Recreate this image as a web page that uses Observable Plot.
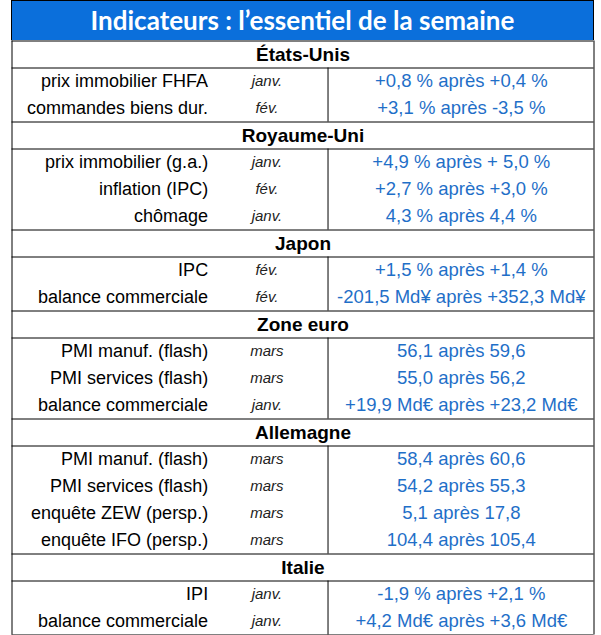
<!DOCTYPE html>
<html>
<head>
<meta charset="utf-8">
<script src="https://cdn.jsdelivr.net/npm/d3@7"></script>
<script src="https://cdn.jsdelivr.net/npm/@observablehq/plot@0.6"></script>
<style>
  html, body { margin: 0; padding: 0; background: #fff; }
  #title {
    position: relative; left: 11px; width: 581px; height: 39px;
    border: 1px solid #000; border-bottom: none;
    background: #0b6fdb; color: #fff;
    font-family: Lato, "Open Sans", sans-serif; font-weight: bold; font-size: 26px;
    line-height: 39px; text-align: center; white-space: nowrap;
  }
  #chart svg { display: block; }
</style>
</head>
<body>
<div id="title">Indicateurs : l’essentiel de la semaine</div>
<div id="chart"></div>
<script>
// ---- data ----
const sections = ["États-Unis", "Royaume-Uni", "Japon", "Zone euro", "Allemagne", "Italie"];
const indicatorSection = [0, 0, 1, 1, 1, 2, 2, 3, 3, 3, 4, 4, 4, 4, 5, 5];
const indicators = [
  "prix immobilier FHFA", "commandes biens dur.",
  "prix immobilier (g.a.)", "inflation (IPC)", "chômage",
  "IPC", "balance commerciale",
  "PMI manuf. (flash)", "PMI services (flash)", "balance commerciale",
  "PMI manuf. (flash)", "PMI services (flash)", "enquête ZEW (persp.)", "enquête IFO (persp.)",
  "IPI", "balance commerciale"
];
const periods = [
  "janv.", "fév.",
  "janv.", "fév.", "janv.",
  "fév.", "fév.",
  "mars", "mars", "janv.",
  "mars", "mars", "mars", "mars",
  "janv.", "janv."
];
const values = [
  "+0,8 % après +0,4 %", "+3,1 % après -3,5 %",
  "+4,9 % après + 5,0 %", "+2,7 % après +3,0 %", "4,3 % après 4,4 %",
  "+1,5 % après +1,4 %", "-201,5 Md¥ après +352,3 Md¥",
  "56,1 après 59,6", "55,0 après 56,2", "+19,9 Md€ après +23,2 Md€",
  "58,4 après 60,6", "54,2 après 55,3", "5,1 après 17,8", "104,4 après 105,4",
  "-1,9 % après +2,1 %", "+4,2 Md€ après +3,6 Md€"
];

// ---- layout (column anchors as fractions of table width) ----
const col = { label: 0.337, period: 0.438, divider: 0.543, value: 0.772, center: 0.5 };

// build row tables
const headerRows = [];
const dataRows = [];
const blocks = [];
let r = 0;
sections.forEach((s, si) => {
  headerRows.push({ name: s, row: r });
  r += 1;
  const start = r;
  indicators.forEach((ind, i) => {
    if (indicatorSection[i] === si) {
      dataRows.push({ indicator: ind, period: periods[i], value: values[i], row: r });
      r += 1;
    }
  });
  blocks.push({ y1: start, y2: r });
});
const nRows = r;
const hLines = [];
headerRows.forEach(h => { hLines.push(h.row); hLines.push(h.row + 1); });
hLines.push(nRows);

const font = "'Liberation Sans', Arial, sans-serif";
const chart = Plot.plot({
  width: 601,
  height: 595,
  margin: 0,
  x: { domain: [0, 1], range: [11.5, 593.5], axis: null },
  y: { domain: [0, nRows], range: [0.5, 594.5], axis: null },
  style: { fontFamily: font, background: "#fff" },
  marks: [
    Plot.ruleY(hLines, { y: d => d, x1: 0, x2: 1, stroke: "#000", strokeWidth: 1, strokeOpacity: 1 }),
    Plot.ruleX([0, 1], { x: d => d, y1: 0, y2: nRows, stroke: "#000", strokeWidth: 1, strokeOpacity: 1 }),
    Plot.ruleX(blocks, { x: () => col.divider, y1: "y1", y2: "y2", stroke: "#000", strokeWidth: 1, strokeOpacity: 1 }),
    Plot.text(headerRows, { x: () => col.center, y: d => d.row + 0.5, text: "name",
      fontWeight: "bold", fontSize: 19, fill: "#000" }),
    Plot.text(dataRows, { x: () => col.label, y: d => d.row + 0.5, text: "indicator",
      textAnchor: "end", fontSize: 18, fill: "#000" }),
    Plot.text(dataRows, { x: () => col.period, y: d => d.row + 0.5, text: "period",
      fontStyle: "italic", fontSize: 15, fill: "#222" }),
    Plot.text(dataRows, { x: () => col.value, y: d => d.row + 0.5, text: "value",
      fontSize: 18.5, fill: "#1f6fc8" })
  ]
});
document.getElementById("chart").appendChild(chart);
</script>
</body>
</html>
